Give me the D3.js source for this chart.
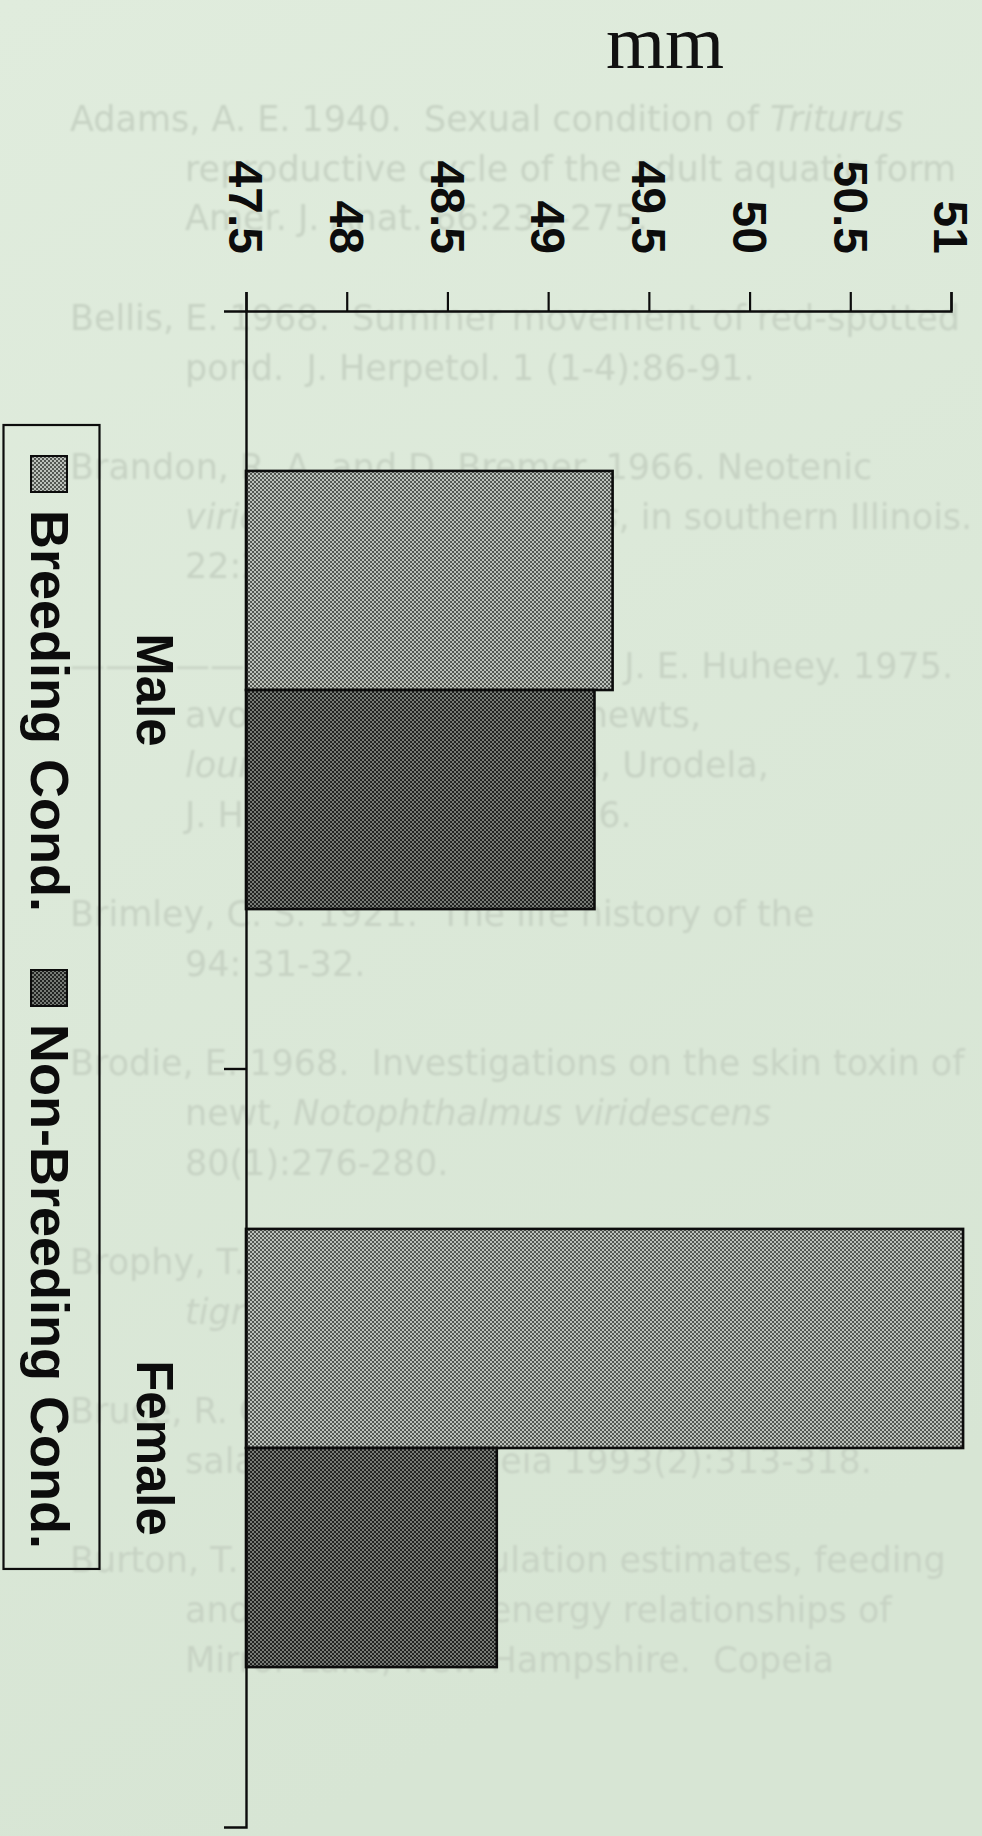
<!DOCTYPE html>
<html>
<head>
<meta charset="utf-8">
<script src="https://cdn.jsdelivr.net/npm/d3@7"></script>
<style>
  html, body { margin: 0; padding: 0; background: #dde9da; }
  svg { display: block; }
</style>
</head>
<body>
<svg id="chart" width="982" height="1836"></svg>
<script>
// ---- data ----
const categories = ["Male", "Female"];
const seriesNames = ["Breeding Cond.", "Non-Breeding Cond."];
const breeding = [49.32, 51.06];
const nonBreeding = [49.23, 48.745];
const tickValues = [47.5, 48, 48.5, 49, 49.5, 50, 50.5, 51];
const unitLabel = "mm";

// printed page underneath the figure (entries of the reference list; *...* = italic)
const references = [
  ["Adams, A. E. 1940.  Sexual condition of *Triturus viridescens*. III. The",
   "reproductive cycle of the adult aquatic form of both sexes.",
   "Amer. J. Anat. 66:235-275."],
  ["Bellis, E. 1968.  Summer movement of red-spotted newts in a small",
   "pond.  J. Herpetol. 1 (1-4):86-91."],
  ["Brandon, R. A. and D. Bremer. 1966. Neotenic newts, *Notophthalmus*",
   "*viridescens louisianensis*, in southern Illinois. Herpetologica",
   "22:213-217."],
  ["\u2014\u2014\u2014\u2014\u2014\u2014\u2014\u2014\u2014\u2014\u2014\u2014\u2014, and J. E. Huheey. 1975.  Diurnal activity,",
   "avoidance behavior of newts, *Notophthalmus viridescens*",
   "*louisianensis* (Amphibia, Urodela, Salamandridae).",
   "J. Herpetol. 9(2):175-176."],
  ["Brimley, C. S. 1921.  The life history of the American newt. Copeia",
   "94: 31-32."],
  ["Brodie, E. 1968.  Investigations on the skin toxin of the red-spotted",
   "newt, *Notophthalmus viridescens viridescens*. Amer. Midl. Nat.",
   "80(1):276-280."],
  ["Brophy, T. E. 1980.  Food habits of sympatric larval *Ambystoma*",
   "*tigrinum* and *Notophthalmus viridescens*. J. Herpetol. 14:1-6."],
  ["Bruce, R. C. 1993.  Sexual size dimorphism in desmognathine",
   "salamanders. Copeia 1993(2):313-318."],
  ["Burton, T. M. 1977.  Population estimates, feeding habits",
   "and nutrient and energy relationships of *Notophthalmus*",
   "Mirror Lake, New Hampshire.  Copeia 1:139-143."]
];

// ---- layout ----
const W = 982, H = 1836;
const sansBold = "'Liberation Sans', Arial, Helvetica, sans-serif";
const svg = d3.select("#chart");
const defs = svg.append("defs");

// page colour
const bg = defs.append("linearGradient").attr("id", "paper")
  .attr("x1", 0).attr("y1", 0).attr("x2", 0.3).attr("y2", 1);
bg.append("stop").attr("offset", 0).attr("stop-color", "#e0ecdd");
bg.append("stop").attr("offset", 1).attr("stop-color", "#d7e5d4");
svg.append("rect").attr("width", W).attr("height", H).attr("fill", "url(#paper)");

// soft show-through of the printed page
defs.append("filter").attr("id", "soft")
  .append("feGaussianBlur").attr("stdDeviation", 1.2);

// halftone fills
function halftone(id, light, dark) {
  const p = defs.append("pattern").attr("id", id)
    .attr("patternUnits", "userSpaceOnUse").attr("width", 4).attr("height", 4);
  p.append("rect").attr("width", 4).attr("height", 4).attr("fill", light);
  p.append("rect").attr("width", 2).attr("height", 2).attr("fill", dark);
  p.append("rect").attr("x", 2).attr("y", 2).attr("width", 2).attr("height", 2).attr("fill", dark);
}
halftone("fillBreeding", "#bcc1bb", "#535752");
halftone("fillNonBreeding", "#777b76", "#212321");
const fills = d3.scaleOrdinal().domain(seriesNames)
  .range(["url(#fillBreeding)", "url(#fillNonBreeding)"]);

// ---- page text ----
const pageG = svg.append("g").attr("filter", "url(#soft)")
  .attr("fill", "#c7d3c4")
  .style("font-family", "'DejaVu Sans', 'Open Sans', sans-serif")
  .style("font-size", "35px");
const lineStep = 49.7, firstBase = 131;

function fillLine(t, line) {
  t.selectAll("tspan").remove();
  line.split("*").forEach((seg, k) => {
    if (seg.length) t.append("tspan").style("font-style", k % 2 ? "italic" : "normal").text(seg);
  });
}
let row = 0;
references.forEach(entry => {
  entry.forEach((line, i) => {
    const x0 = i === 0 ? 70 : 185;
    const t = pageG.append("text")
      .attr("x", x0)
      .attr("y", firstBase + row * lineStep)
      .attr("xml:space", "preserve");
    // keep whole words that fit on the page width
    let words = line.split(" ");
    fillLine(t, words.join(" "));
    while (words.length > 1 && x0 + t.node().getComputedTextLength() > W - 6) {
      words.pop();
      fillLine(t, words.join(" ").trimEnd());
    }
    row += 1;
  });
  row += 1;
});

// ---- scales ----
const x = d3.scaleLinear().domain([47.5, 51]).range([246, 951]);
const y = d3.scaleBand().domain(categories).range([311, 1827]);
const ySub = d3.scaleBand().domain(seriesNames).range([0, y.bandwidth()])
  .paddingInner(0).paddingOuter(0.73);

const rows = categories.map((c, i) => ({
  category: c,
  values: [
    { series: seriesNames[0], value: breeding[i] },
    { series: seriesNames[1], value: nonBreeding[i] }
  ]
}));

// ---- bars ----
svg.append("g").selectAll("g").data(rows).join("g")
  .attr("transform", d => `translate(0,${y(d.category)})`)
  .selectAll("rect").data(d => d.values).join("rect")
  .attr("x", x(47.5))
  .attr("y", d => ySub(d.series))
  .attr("width", d => x(d.value) - x(47.5))
  .attr("height", ySub.bandwidth())
  .attr("fill", d => fills(d.series))
  .attr("stroke", "#0c0c0c")
  .attr("stroke-width", 2.6);

// ---- value axis (top) ----
const xAxis = svg.append("g")
  .attr("transform", `translate(0,${y.range()[0]})`)
  .call(d3.axisTop(x).tickValues(tickValues).tickSize(19).tickSizeOuter(19)
    .tickFormat(d3.format("~g")));
xAxis.select(".domain").attr("stroke", "#0c0c0c").attr("stroke-width", 2.4);
xAxis.selectAll(".tick line").attr("stroke", "#0c0c0c").attr("stroke-width", 2.2);
xAxis.selectAll(".tick text")
  .attr("x", 0).attr("y", 0).attr("dy", "0.36em")
  .attr("text-anchor", "end")
  .attr("transform", "translate(0,-57) rotate(90)")
  .attr("fill", "#0c0c0c")
  .style("font-family", sansBold).style("font-weight", "bold").style("font-size", "48px");

// ---- category axis (left) ----
const yAxis = svg.append("g")
  .attr("transform", `translate(${x(47.5)},0)`)
  .call(d3.axisLeft(y).tickSizeInner(0).tickSizeOuter(22));
yAxis.select(".domain").attr("stroke", "#0c0c0c").attr("stroke-width", 2.4);
yAxis.selectAll(".tick line").remove();
yAxis.selectAll(".tick text")
  .attr("x", 0).attr("y", 0).attr("dy", 0)
  .attr("text-anchor", "middle")
  .attr("transform", "translate(-109,0) rotate(90)")
  .attr("fill", "#0c0c0c")
  .style("font-family", sansBold).style("font-weight", "bold").style("font-size", "51px");
// divider ticks between categories
yAxis.selectAll(".divider").data(categories.slice(1)).join("line")
  .attr("class", "divider")
  .attr("x1", -22).attr("x2", 0)
  .attr("y1", d => y(d)).attr("y2", d => y(d))
  .attr("stroke", "#0c0c0c").attr("stroke-width", 2.4);

// ---- unit label ----
svg.append("text")
  .attr("x", 665).attr("y", 68)
  .attr("text-anchor", "middle")
  .attr("fill", "#111")
  .style("font-family", "'Liberation Serif', 'Times New Roman', serif")
  .style("font-size", "76px")
  .text(unitLabel);

// ---- legend ----
const legend = svg.append("g");
const box = legend.append("rect")
  .attr("fill", "none").attr("stroke", "#0c0c0c").attr("stroke-width", 2.2);
const sw = 36, legendX = 31;
let cursor = 456;
seriesNames.forEach((name, i) => {
  legend.append("rect")
    .attr("x", legendX).attr("y", cursor).attr("width", sw).attr("height", sw)
    .attr("fill", fills(name)).attr("stroke", "#0c0c0c").attr("stroke-width", 2);
  cursor += sw + 18;
  const t = legend.append("text")
    .attr("transform", `translate(${legendX},${cursor}) rotate(90)`)
    .attr("fill", "#0c0c0c")
    .style("font-family", sansBold).style("font-weight", "bold").style("font-size", "54px")
    .text(name);
  cursor += t.node().getComputedTextLength();
  if (i < seriesNames.length - 1) cursor += 58;
});
box.attr("x", 3.5).attr("y", 425).attr("width", 96).attr("height", cursor + 20 - 425);
</script>
</body>
</html>
